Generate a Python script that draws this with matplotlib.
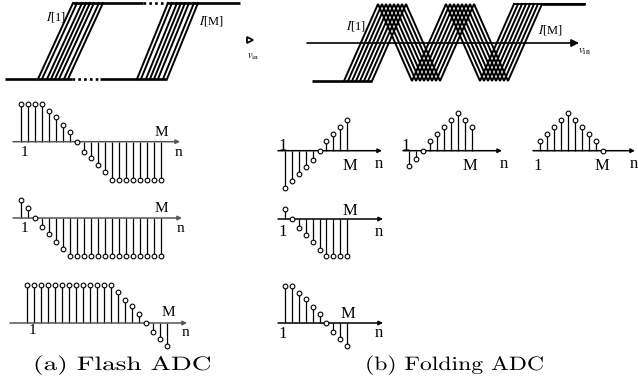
import matplotlib
matplotlib.use("Agg")
import matplotlib.pyplot as plt
from matplotlib.patheffects import AbstractPathEffect
from matplotlib.transforms import Affine2D

plt.rcParams['mathtext.fontset'] = 'stix'
plt.rcParams['font.family'] = ['Liberation Serif', 'DejaVu Serif']

W, H = 638, 387

# ---------------- data ----------------
# Flash ADC stem plots (normalised amplitudes, 21 samples each)
flash_a = [1, 1, 1, 1, 0.82, 0.64, 0.45, 0.26, 0, -0.27, -0.44, -0.62, -0.8,
           -1, -1, -1, -1, -1, -1, -1, -1]
flash_b = [0.47, 0.27, 0, -0.24, -0.42, -0.62, -0.81, -1, -1, -1, -1, -1, -1,
           -1, -1, -1, -1, -1, -1, -1, -1]
flash_c = [1, 1, 1, 1, 1, 1, 1, 1, 1, 1, 1, 1, 1, 0.82, 0.6, 0.45, 0.24, 0,
           -0.24, -0.42, -0.6]
# Folding ADC stem plots (10 samples each)
fold_a = [-0.97, -0.79, -0.61, -0.42, -0.25, 0, 0.25, 0.44, 0.62, 0.81]
fold_b = [-0.4, -0.23, 0, 0.26, 0.44, 0.63, 0.81, 0.98, 0.81, 0.63]
fold_c = [0.26, 0.44, 0.62, 0.81, 0.98, 0.81, 0.63, 0.44, 0.26, 0]
fold_d = [0.25, 0, -0.24, -0.43, -0.61, -0.81, -0.98, -0.98, -0.98, -0.98]
fold_e = [0.97, 0.97, 0.8, 0.62, 0.43, 0.24, 0, -0.24, -0.42, -0.6]

# Flash transfer curves: v_in where each I[k] leaves low level / reaches high level
flash_g1_low = [38, 42, 47, 51, 55, 59, 64, 68]
flash_g1_high = [73, 77, 82, 86, 90, 94, 99, 103]
flash_g2_low = [137, 141, 146, 150, 154, 158, 163, 167]
flash_g2_high = [168, 172, 177, 181, 185, 189, 194, 198]
# Folding transfer curves: v_in of the corners of each I[k]
fold_start = [344, 348, 352, 356, 360, 364, 368, 372]
fold_corners = [0, 34, 68, 102, 136, 170]
fold_levels = [81, 4, 81, 4, 81, 4]

captions = ["(a) Flash ADC", "(b) Folding ADC"]

# ---------------- figure ----------------
fig = plt.figure(figsize=(W / 100, H / 100), dpi=100)
bg = fig.add_axes([0, 0, 1, 1])
bg.set_xlim(0, W)
bg.set_ylim(H, 0)
bg.axis('off')

LOW, HIGH = 79, 3
# flash flat levels
bg.plot([5, 72], [LOW, LOW], color='k', lw=1.9, solid_capstyle='butt')
bg.plot([72, 100], [LOW, LOW], color='k', lw=1.9, ls=(0, (1, 1.2)))
bg.plot([100, 167], [LOW, LOW], color='k', lw=1.9, solid_capstyle='butt')
bg.plot([73, 143], [HIGH, HIGH], color='k', lw=1.9, solid_capstyle='butt')
bg.plot([143, 168], [HIGH, HIGH], color='k', lw=1.9, ls=(0, (1, 1.2)))
bg.plot([168, 240], [HIGH, HIGH], color='k', lw=1.9, solid_capstyle='butt')
for lo, hi in zip(flash_g1_low + flash_g2_low, flash_g1_high + flash_g2_high):
    bg.plot([lo, hi], [LOW, HIGH], color='k', lw=1.4)
bg.text(56, 17, r'$I$[1]', fontsize=9, ha='center', va='center')
bg.text(211, 21, r'$I$[M]', fontsize=9, ha='center', va='center')
bg.plot([250], [40], marker='>', ms=5, mfc='white', mec='k', mew=1.3)
bg.text(253, 57, r'$v_{\rm in}$', fontsize=7.5, ha='center', va='center')

# folding curves
bg.annotate('', xy=(579, 43), xytext=(307, 43),
            arrowprops=dict(arrowstyle='-|>', color='k', lw=1.2,
                            mutation_scale=11, shrinkA=0, shrinkB=0))
bg.plot([312, fold_start[-1]], [81, 81], color='k', lw=1.9, solid_capstyle='butt')
bg.plot([514 + 28, 585], [4, 4], color='k', lw=1.9, solid_capstyle='butt')
for s in fold_start:
    xs = [s + c for c in fold_corners]
    bg.plot(xs, fold_levels, color='k', lw=1.4, solid_joinstyle='miter')
bg.plot([514, 585], [4, 4], color='k', lw=1.3)
bg.text(356, 26, r'$I$[1]', fontsize=9, ha='center', va='center')
bg.text(550, 30, r'$I$[M]', fontsize=9, ha='center', va='center')
bg.text(584, 52, r'$v_{\rm in}$', fontsize=8, ha='center', va='center')

# ---------------- stem panels ----------------
UNIT = 38.0  # pixels per unit amplitude


def stem_panel(values, first_px, step_px, axis_y, x0, x1, arrow_col='k'):
    half = 46
    ax = fig.add_axes([x0 / W, 1 - (axis_y + half) / H,
                       (x1 - x0) / W, 2 * half / H])
    n = len(values)
    xl0 = (x0 - first_px) / step_px + 1
    xl1 = (x1 - first_px) / step_px + 1
    ax.set_xlim(xl0, xl1)
    ax.set_ylim(-half / UNIT, half / UNIT)
    ax.axis('off')
    ax.annotate('', xy=(xl1, 0), xytext=(xl0, 0),
                arrowprops=dict(arrowstyle='-|>', color=arrow_col, lw=1.1,
                                mutation_scale=6, shrinkA=0, shrinkB=0))
    idx = list(range(1, n + 1))
    markerline, stemlines, baseline = ax.stem(idx, values, basefmt=' ')
    stemlines.set_color('k')
    stemlines.set_linewidth(0.9)
    markerline.set_marker('o')
    markerline.set_markersize(3.4)
    markerline.set_markerfacecolor('white')
    markerline.set_markeredgecolor('k')
    markerline.set_markeredgewidth(0.8)
    markerline.set_zorder(5)
    for a in [markerline, stemlines]:
        a.set_clip_on(False)
    return ax


stem_panel(flash_a, 21, 7.0, 141.7, 13, 180, '#555555')
stem_panel(flash_b, 21, 7.0, 218, 13, 182, '#555555')
stem_panel(flash_c, 27, 7.0, 323, 10, 187, '#555555')
stem_panel(fold_a, 285, 6.9, 150.7, 278, 382)
stem_panel(fold_b, 409, 7.0, 150.7, 403, 502)
stem_panel(fold_c, 540, 7.0, 150.7, 533, 635)
stem_panel(fold_d, 285, 6.9, 219, 278, 383)
stem_panel(fold_e, 285, 6.9, 323, 278, 383)

# panel labels (1, M, n)
labels = [
    (24, 152, '1', 11), (161, 133, 'M', 11), (178, 152, 'n', 11),
    (24, 228, '1', 11), (161, 208, 'M', 11), (180, 228, 'n', 11),
    (32, 330, '1', 11), (168, 313, 'M', 11), (185, 332, 'n', 11),
    (283, 146, '1', 12), (350, 166, 'M', 12), (379, 164, 'n', 12),
    (406, 146, '1', 12), (470, 166, 'M', 12), (504, 164, 'n', 12),
    (538, 166, '1', 12), (602, 166, 'M', 12), (634, 164, 'n', 12),
    (283, 232, '1', 12), (350, 211, 'M', 12), (379, 232, 'n', 12),
    (283, 334, '1', 12), (348, 314, 'M', 12), (379, 333, 'n', 12),
]
for x, y, s, fs in labels:
    bg.text(x, y, s, fontsize=fs, ha='center', va='center')


class HStretch(AbstractPathEffect):
    def __init__(self, sx):
        super().__init__()
        self.sx = sx

    def draw_path(self, renderer, gc, tpath, affine, rgbFace=None):
        renderer.draw_path(gc, tpath, Affine2D().scale(self.sx, 1) + affine, rgbFace)


bg.text(33, 370, captions[0], fontsize=14, family='cmr10', ha='left',
        va='baseline', path_effects=[HStretch(1.40)])
bg.text(365, 370, captions[1], fontsize=14, family='cmr10', ha='left',
        va='baseline', path_effects=[HStretch(1.22)])

fig.savefig('out.png', dpi=100)
